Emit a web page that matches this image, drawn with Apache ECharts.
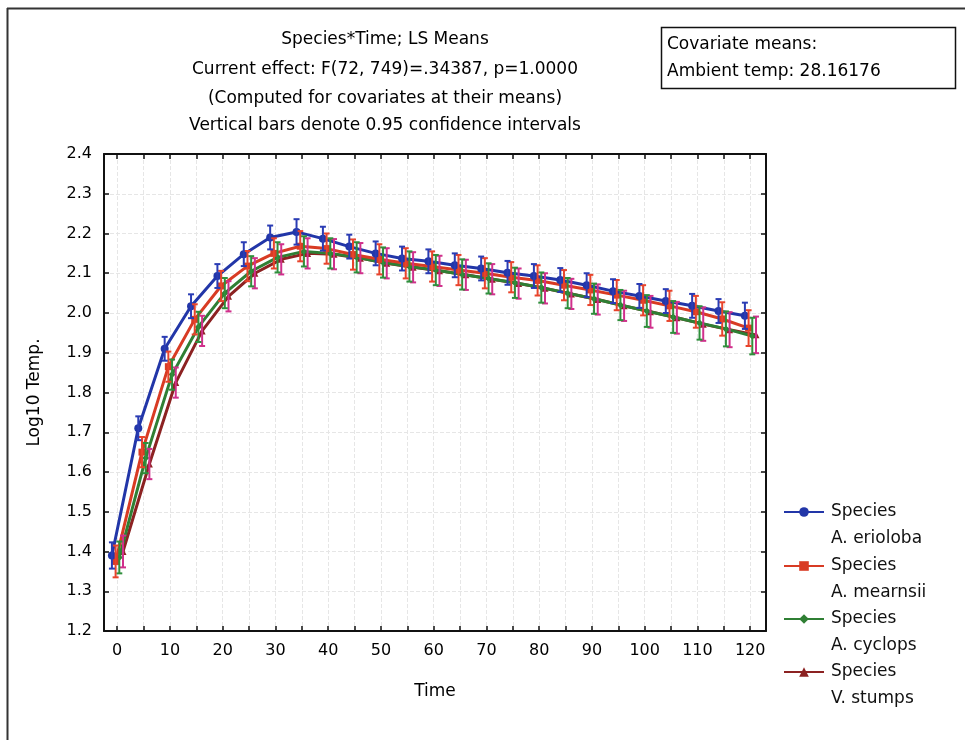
<!DOCTYPE html>
<html>
<head>
<meta charset="utf-8">
<script src="https://cdn.jsdelivr.net/npm/echarts@6/dist/echarts.min.js"></script>
<style>html,body{margin:0;padding:0;background:#fff;}#c{width:965px;height:740px;}</style>
</head>
<body>
<div id="c"></div>
<script>
// ---- data ----
const times = [0,5,10,15,20,25,30,35,40,45,50,55,60,65,70,75,80,85,90,95,100,105,110,115,120];
const seriesNames = ['A. erioloba','A. mearnsii','A. cyclops','V. stumps'];
const jitter = [-1.0, -0.3, 0.4, 1.1];
const erioloba = [1.39,1.71,1.91,2.017,2.093,2.148,2.19,2.204,2.187,2.167,2.15,2.137,2.13,2.12,2.112,2.101,2.093,2.083,2.07,2.055,2.043,2.03,2.018,2.005,1.993];
const mearnsii = [1.375,1.65,1.865,1.984,2.068,2.118,2.15,2.168,2.162,2.147,2.135,2.125,2.117,2.108,2.1,2.09,2.082,2.07,2.058,2.045,2.032,2.018,2.003,1.985,1.962];
const cyclops  = [1.385,1.635,1.845,1.965,2.05,2.105,2.14,2.155,2.15,2.14,2.127,2.117,2.108,2.097,2.087,2.076,2.064,2.05,2.036,2.02,2.005,1.99,1.975,1.96,1.942];
const stumps   = [1.40,1.62,1.825,1.955,2.042,2.1,2.135,2.15,2.148,2.138,2.125,2.115,2.106,2.096,2.085,2.074,2.062,2.048,2.034,2.018,2.003,1.988,1.972,1.958,1.945];
// 95% CI half-widths
const eriolobaCI = [0.033,0.03,0.03,0.03,0.03,0.03,0.03,0.032,0.03,0.03,0.03,0.03,0.03,0.03,0.03,0.03,0.03,0.03,0.03,0.03,0.03,0.03,0.03,0.03,0.033];
const mearnsiiCI = [0.04,0.038,0.038,0.038,0.038,0.038,0.038,0.038,0.038,0.038,0.038,0.038,0.038,0.038,0.038,0.038,0.038,0.038,0.038,0.038,0.038,0.038,0.04,0.042,0.045];
const cyclopsCI  = [0.04,0.038,0.038,0.038,0.038,0.038,0.038,0.038,0.038,0.038,0.038,0.038,0.038,0.038,0.038,0.038,0.038,0.038,0.038,0.038,0.04,0.04,0.042,0.044,0.046];
const stumpsCI   = [0.04,0.038,0.038,0.038,0.038,0.038,0.038,0.038,0.038,0.038,0.038,0.038,0.038,0.038,0.038,0.038,0.038,0.038,0.038,0.038,0.04,0.04,0.042,0.044,0.046];
const xTicks = [0,5,10,15,20,25,30,35,40,45,50,55,60,65,70,75,80,85,90,95,100,105,110,115,120];
const xLabels = [0,10,20,30,40,50,60,70,80,90,100,110,120];
const titleLines = ['Species*Time; LS Means','Current effect: F(72, 749)=.34387, p=1.0000','(Computed for covariates at their means)','Vertical bars denote 0.95 confidence intervals'];
const covariateLines = ['Covariate means:','Ambient temp: 28.16176'];

// ---- styles ----
const FONT = 'DejaVu Sans';
const lineColors = ['#2236a8','#d83b24','#2f7f34','#8c2222'];
const barColors  = ['#2a3cb4','#e8442c','#2f8f3c','#d0308c'];
const symbols = ['circle','rect','diamond','triangle'];
const symSizes = [8,7,7,7];
const means = [erioloba, mearnsii, cyclops, stumps];
const cis = [eriolobaCI, mearnsiiCI, cyclopsCI, stumpsCI];

const series = [];
const order = [3,2,1,0];
order.forEach(function(i){
  const pts = times.map(function(t,k){ return [t + jitter[i], means[i][k]]; });
  const bars = times.map(function(t,k){ return [t + jitter[i], means[i][k]-cis[i][k], means[i][k]+cis[i][k]]; });
  series.push({
    type:'line', name: seriesNames[i], data: pts, symbol: symbols[i], symbolSize: symSizes[i],
    lineStyle:{color: lineColors[i], width: 3}, itemStyle:{color: lineColors[i]},
    z: 3 + (3-i), animation:false
  });
  series.push({
    type:'custom', name: seriesNames[i] + ' CI', data: bars, z: 10 + (3-i), animation:false,
    encode:{x:0, y:[1,2]},
    renderItem: function(params, api){
      const x = api.value(0);
      const lo = api.coord([x, api.value(1)]);
      const hi = api.coord([x, api.value(2)]);
      const w = 3;
      const st = {stroke: barColors[i], lineWidth: 2};
      return {type:'group', children:[
        {type:'line', shape:{x1:lo[0], y1:lo[1], x2:hi[0], y2:hi[1]}, style: st},
        {type:'line', shape:{x1:hi[0]-w, y1:hi[1], x2:hi[0]+w, y2:hi[1]}, style: st},
        {type:'line', shape:{x1:lo[0]-w, y1:lo[1], x2:lo[0]+w, y2:lo[1]}, style: st}
      ]};
    }
  });
});

const legendTops = [471.5, 525.5, 578.5, 631.5];
const legends = seriesNames.map(function(n, i){
  return {
    data:[n], left: 783, top: legendTops[i], padding: 0, orient:'vertical',
    itemWidth: 40, itemHeight: 12, selectedMode: false,
    formatter: function(name){ return '\u00a0\nSpecies\n' + name; },
    textStyle:{fontFamily: FONT, fontSize: 17, color:'#111', lineHeight: 27, padding:[0,0,0,2]}
  };
});

const graphics = [
  {type:'line', shape:{x1:7.5, y1:8, x2:7.5, y2:740}, style:{stroke:'#333', lineWidth:2}},
  {type:'line', shape:{x1:7, y1:8.5, x2:965, y2:8.5}, style:{stroke:'#333', lineWidth:2}},
  {type:'rect', shape:{x:661.5, y:27.5, width:294, height:61}, style:{fill:'#fff', stroke:'#111', lineWidth:1.5}},
];
const titleY = [39.5, 70, 98.5, 125.5];
titleLines.forEach(function(s, k){
  graphics.push({type:'text', x:385, y:titleY[k], style:{text:s, fontFamily:FONT, fontSize:17, fill:'#000', align:'center', verticalAlign:'middle'}});
});
const covY = [45, 72];
covariateLines.forEach(function(s, k){
  graphics.push({type:'text', x:667, y:covY[k], style:{text:s, fontFamily:FONT, fontSize:17, fill:'#000', align:'left', verticalAlign:'middle'}});
});

const axisLineStyle = {color:'#111', width:2};
const gridLine = {show:true, lineStyle:{color:'#e6e6e6', width:1, type:'dashed'}};

const option = {
  backgroundColor:'#fff',
  animation:false,
  grid:{left:104, top:154, right:199, bottom:109, containLabel:false},
  legend: legends,
  graphic: graphics,
  xAxis:[
    {type:'value', min:-2.5, max:123, position:'bottom',
      name:'Time', nameLocation:'middle', nameGap:52,
      nameTextStyle:{fontFamily:FONT, fontSize:17, color:'#000'},
      axisLine:{show:true, onZero:false, lineStyle:axisLineStyle},
      axisTick:{show:true, inside:true, length:5, customValues: xTicks, lineStyle:{color:'#111', width:1.5}},
      axisLabel:{show:true, customValues: xLabels, margin:12, fontFamily:FONT, fontSize:16, color:'#000'},
      splitLine: gridLine},
    {type:'value', min:-2.5, max:123, position:'top',
      axisLine:{show:true, onZero:false, lineStyle:axisLineStyle},
      axisTick:{show:true, inside:true, length:5, customValues: xTicks, lineStyle:{color:'#111', width:1.5}},
      axisLabel:{show:false}, splitLine:{show:false}}
  ],
  yAxis:[
    {type:'value', min:1.2, max:2.4, interval:0.1, position:'left',
      name:'Log10 Temp.', nameLocation:'middle', nameGap:61, nameRotate:90,
      nameTextStyle:{fontFamily:FONT, fontSize:17, color:'#000'},
      axisLine:{show:true, onZero:false, lineStyle:axisLineStyle},
      axisTick:{show:true, inside:true, length:5, lineStyle:{color:'#111', width:1.5}},
      axisLabel:{margin:12, fontFamily:FONT, fontSize:16, color:'#000', formatter:function(v){return v.toFixed(1);}},
      splitLine: gridLine},
    {type:'value', min:1.2, max:2.4, interval:0.1, position:'right',
      axisLine:{show:true, onZero:false, lineStyle:axisLineStyle},
      axisTick:{show:true, inside:true, length:5, lineStyle:{color:'#111', width:1.5}},
      axisLabel:{show:false}, splitLine:{show:false}}
  ],
  series: series
};
const chart = echarts.init(document.getElementById('c'), null, {renderer:'canvas'});
chart.setOption(option);
</script>
</body>
</html>
